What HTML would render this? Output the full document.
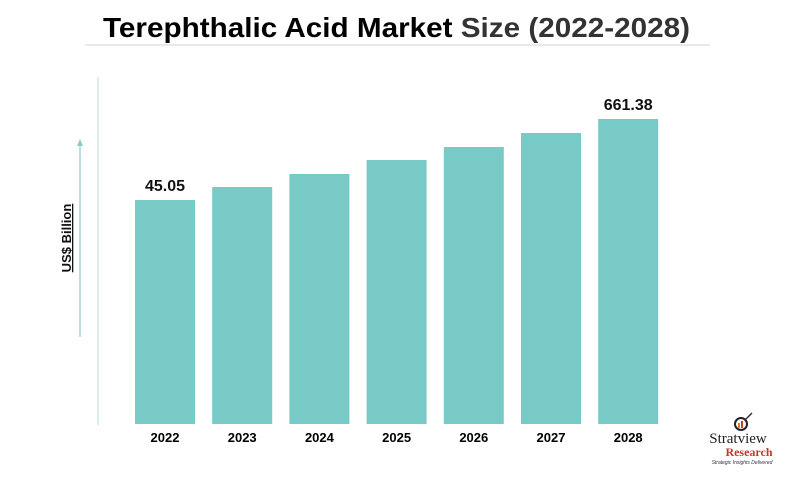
<!DOCTYPE html>
<html><head><meta charset="utf-8">
<style>
body{margin:0;background:#fff;width:796px;height:473px;overflow:hidden;font-family:"Liberation Sans",sans-serif;}
</style></head>
<body>
<svg width="796" height="473" viewBox="0 0 796 473" xmlns="http://www.w3.org/2000/svg">
<text x="103" y="37" textLength="587" lengthAdjust="spacingAndGlyphs" font-size="28" font-weight="bold" fill="#000">Terephthalic Acid Market <tspan fill="#333">Size (2022-2028)</tspan></text>
<line x1="85" y1="45" x2="710" y2="45" stroke="#dde3e6" stroke-width="1.5"/>
<line x1="98" y1="77" x2="98" y2="425" stroke="#b8dbe0" stroke-width="1"/>
<line x1="80" y1="337" x2="80" y2="145" stroke="#8fc8cc" stroke-width="1.2"/>
<polygon points="80,139 77,146 83,146" fill="#8fc8cc"/>
<text x="71" y="238" transform="rotate(-90 71 238)" text-anchor="middle" font-size="13" font-weight="bold" text-decoration="underline" fill="#111">US$ Billion</text>
<g id="bars"></g>
<g>
<circle cx="741" cy="424" r="6" fill="none" stroke="#222" stroke-width="2"/>
<rect x="738" y="423" width="2" height="5" fill="#e07a2a"/><rect x="741" y="421" width="2" height="7" fill="#d33"/>
<line x1="746" y1="419" x2="752" y2="413" stroke="#333" stroke-width="1.5"/>
<text x="738" y="443" text-anchor="middle" font-family="Liberation Serif,serif" font-size="15" fill="#222">Stratview</text>
<text x="749" y="456" text-anchor="middle" font-family="Liberation Serif,serif" font-size="12" font-weight="bold" fill="#c0392b">Research</text>
<text x="742" y="464" text-anchor="middle" font-size="5" font-style="italic" fill="#334">Strategic Insights Delivered</text>
</g>
</svg>
<script>
const categories=["2022","2023","2024","2025","2026","2027","2028"];
const values=[45.05,143.8,242.8,349.3,448.2,554.8,661.38];
const printedLabels=["45.05","","","","","","661.38"];
const ns="http://www.w3.org/2000/svg";
const baseY=424, x0=135, step=77.2, bw=60;
function xScale(i){return x0+i*step;}
function hScale(v){return 218.1+0.1314*v;}
const g=document.getElementById('bars');
categories.forEach((c,i)=>{
  const h=hScale(values[i]);
  const r=document.createElementNS(ns,'rect');
  r.setAttribute('x',xScale(i));r.setAttribute('y',baseY-h);
  r.setAttribute('width',bw);r.setAttribute('height',h);r.setAttribute('fill','#78cac7');
  
  
  g.appendChild(r);
  const t=document.createElementNS(ns,'text');
  t.setAttribute('x',xScale(i)+bw/2);t.setAttribute('y',442);
  t.setAttribute('text-anchor','middle');t.setAttribute('font-size','13');t.setAttribute('font-weight','bold');
  t.textContent=c;
  
  
  g.appendChild(t);
  if(printedLabels[i]){
    const l=document.createElementNS(ns,'text');
    l.setAttribute('x',xScale(i)+bw/2);l.setAttribute('y',baseY-h-9);
    l.setAttribute('text-anchor','middle');l.setAttribute('font-size','16');l.setAttribute('font-weight','bold');l.setAttribute('fill','#111');
    l.textContent=printedLabels[i];
    
    
    g.appendChild(l);
  }
});
</script>
</body></html>
